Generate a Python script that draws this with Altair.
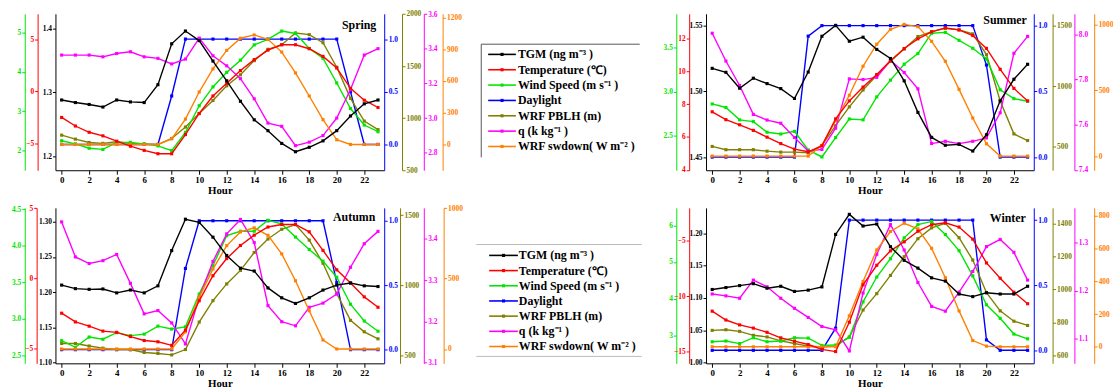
import altair as alt
import pandas as pd

HOURS = list(range(24))
SERIES = ["TGM (ng m⁻³ )", "Temperature (℃)", "Wind Speed (m s⁻¹ )", "Daylight",
          "WRF PBLH (m)", "q (k kg⁻¹ )", "WRF swdown( W m⁻² )"]
KEYS = ["tgm", "temp", "wind", "day", "pblh", "q", "sw"]
COLORS = ["#000000", "#ff0000", "#00e600", "#0000ff", "#808000", "#ff00ff", "#ff8000"]
SEASONS = ["Spring", "Summer", "Autumn", "Winter"]

# ---- Spring ----
spring_tgm = [1.288, 1.284, 1.281, 1.277, 1.288, 1.285, 1.284, 1.312, 1.376, 1.396, 1.381, 1.349,
              1.318, 1.286, 1.257, 1.240, 1.220, 1.207, 1.214, 1.224, 1.240, 1.263, 1.282, 1.288]
spring_temp = [-2.48, -3.30, -3.90, -4.24, -4.75, -5.23, -5.63, -5.95, -5.95, -4.12, -2.10, -0.43,
               0.78, 2.00, 3.05, 3.96, 4.47, 4.47, 4.09, 3.36, 2.25, 0.30, -0.83, -1.53]
spring_wind = [2.25, 2.17, 2.06, 2.03, 2.21, 2.21, 2.17, 2.12, 2.00, 2.46, 3.14, 3.62,
               3.99, 4.30, 4.69, 4.83, 5.04, 4.98, 4.60, 4.35, 3.72, 3.07, 2.65, 2.48]
spring_day = [0, 0, 0, 0, 0, 0, 0, 0, 0.46, 1, 1, 1, 1, 1, 1, 1, 1, 1, 1, 1, 1, 0.5, 0, 0]
spring_pblh = [836, 798, 766, 757, 773, 757, 751, 745, 804, 914, 1043, 1169,
               1310, 1416, 1552, 1661, 1705, 1818, 1802, 1724, 1489, 1190, 971, 889]
spring_q = [3.364, 3.364, 3.364, 3.354, 3.373, 3.383, 3.354, 3.345, 3.313, 3.341, 3.462, 3.360,
            3.302, 3.228, 3.112, 2.972, 2.953, 2.842, 2.862, 2.900, 3.001, 3.165, 3.364, 3.401]
spring_sw = [0, 0, 0, 0, 0, 0, 0, 0, 53, 240, 496, 714, 889, 1004, 1035, 994, 873, 676, 458, 234, 44, 0, 0, 0]

# ---- Summer ----
summer_tgm = [1.5175, 1.5145, 1.5024, 1.510, 1.5059, 1.5021, 1.4946, 1.5147, 1.5419, 1.5502, 1.5381, 1.5412,
              1.5319, 1.525, 1.508, 1.484, 1.465, 1.459, 1.4597, 1.4546, 1.467, 1.4928, 1.5092, 1.5206]
summer_temp = [7.53, 7.05, 6.74, 6.40, 5.99, 5.60, 5.26, 5.10, 5.46, 7.10, 8.19, 9.03,
               9.79, 10.63, 11.37, 11.96, 12.38, 12.62, 12.50, 12.16, 11.38, 10.11, 8.95, 8.19]
summer_wind = [2.86, 2.82, 2.68, 2.66, 2.54, 2.52, 2.55, 2.34, 2.26, 2.48, 2.69, 2.68,
               2.94, 3.13, 3.31, 3.43, 3.66, 3.67, 3.58, 3.49, 3.37, 3.02, 2.92, 2.89]
summer_day = [0, 0, 0, 0, 0, 0, 0, 0.92, 1, 1, 1, 1, 1, 1, 1, 1, 1, 1, 1, 1, 0.7, 0, 0, 0]
summer_pblh = [500, 473, 473, 473, 461, 453, 453, 448, 508, 672, 828, 967,
               1090, 1205, 1306, 1410, 1451, 1478, 1465, 1432, 1260, 877, 604, 549]
summer_q = [8.004, 7.881, 7.773, 7.645, 7.620, 7.606, 7.543, 7.483, 7.490, 7.584, 7.802, 7.799,
            7.809, 7.884, 7.83, 7.758, 7.516, 7.526, 7.516, 7.526, 7.541, 7.652, 7.915, 7.990]
summer_sw = [0, 0, 0, 0, 0, 0, 0, 0, 81, 270, 464, 685, 853, 966, 1004, 987, 875, 723, 509, 290, 94, 0, 0, 0]

# ---- Autumn ----
autumn_tgm = [1.210, 1.205, 1.204, 1.2045, 1.199, 1.203, 1.199, 1.209, 1.259, 1.3035, 1.299, 1.278,
              1.252, 1.234, 1.230, 1.206, 1.192, 1.184, 1.192, 1.203, 1.210, 1.213, 1.209, 1.208]
autumn_temp = [-2.46, -3.08, -3.38, -3.73, -3.82, -4.12, -4.40, -4.49, -4.74, -3.66, -1.58, 0.20,
               1.42, 2.35, 3.08, 3.66, 3.84, 3.84, 3.32, 2.00, 0.62, -0.31, -1.30, -2.04]
autumn_wind = [2.70, 2.61, 2.75, 2.72, 2.81, 2.77, 2.79, 2.90, 2.86, 2.89, 3.34, 3.73,
               4.14, 4.20, 4.20, 4.35, 4.30, 4.12, 3.95, 3.79, 3.57, 3.20, 2.97, 2.83]
autumn_day = [0, 0, 0, 0, 0, 0, 0, 0, 0, 0.63, 1, 1, 1, 1, 1, 1, 1, 1, 1, 1, 0.52, 0, 0, 0]
autumn_pblh = [588, 588, 570, 555, 545, 545, 524, 517, 507, 545, 740, 892,
               1011, 1107, 1234, 1330, 1399, 1432, 1322, 1158, 942, 752, 671, 621]
autumn_q = [3.441, 3.356, 3.340, 3.347, 3.362, 3.292, 3.218, 3.226, 3.196, 3.145, 3.258, 3.345,
            3.412, 3.447, 3.391, 3.238, 3.199, 3.189, 3.234, 3.244, 3.266, 3.331, 3.388, 3.418]
autumn_sw = [0, 0, 0, 0, 0, 0, 0, 0, 0, 122, 369, 568, 735, 832, 861, 808, 676, 485, 272, 64, 0, 0, 0, 0]

# ---- Winter ----
winter_tgm = [1.113, 1.116, 1.119, 1.122, 1.115, 1.118, 1.110, 1.112, 1.117, 1.198, 1.229, 1.211,
              1.214, 1.179, 1.158, 1.146, 1.131, 1.126, 1.106, 1.102, 1.108, 1.106, 1.106, 1.118]
winter_temp = [-11.35, -12.15, -12.59, -12.88, -13.26, -13.76, -14.06, -14.36, -14.80, -15.0, -12.35, -8.97,
               -7.21, -5.91, -5.09, -4.14, -3.55, -3.38, -3.76, -4.85, -7.0, -8.38, -9.64, -10.68]
winter_wind = [2.82, 2.84, 2.77, 2.93, 2.82, 2.84, 2.93, 2.92, 2.72, 2.73, 2.94, 3.91,
               4.59, 5.09, 5.66, 6.02, 6.11, 5.75, 5.31, 4.62, 3.83, 3.46, 3.03, 2.90]
winter_day = [0, 0, 0, 0, 0, 0, 0, 0, 0, 0.17, 1, 1, 1, 1, 1, 1, 1, 1, 1, 1, 0.08, 0, 0, 0]
winter_pblh = [751, 755, 745, 721, 711, 687, 671, 655, 651, 655, 711, 875,
               975, 1086, 1200, 1310, 1376, 1404, 1316, 1180, 981, 870, 807, 781]
winter_q = [1.193, 1.189, 1.184, 1.222, 1.208, 1.184, 1.163, 1.144, 1.125, 1.118, 1.074, 1.195,
            1.276, 1.338, 1.285, 1.217, 1.167, 1.157, 1.197, 1.240, 1.292, 1.307, 1.280, 1.222]
winter_sw = [0, 0, 0, 0, 0, 0, 0, 0, 0, 0, 189, 398, 591, 704, 754, 720, 601, 422, 219, 38, 4, 0, 0, 0]

# ---- axis settings per panel ----
DOMAINS = {
    "Spring": {"tgm": [1.178, 1.423], "temp": [-7.53, 7.43], "wind": [1.5, 5.48], "day": [-0.245, 1.24],
               "pblh": [499, 2002], "q": [2.70, 3.602], "sw": [-244, 1235]},
    "Summer": {"tgm": [1.440, 1.559], "temp": [3.98, 13.48], "wind": [2.11, 3.88], "day": [-0.10, 1.09],
               "pblh": [303, 1598], "q": [7.398, 8.09], "sw": [-108, 1085]},
    "Autumn": {"tgm": [1.099, 1.3196], "temp": [-6.02, 5.02], "wind": [2.39, 4.52], "day": [-0.106, 1.10],
               "pblh": [447, 1551], "q": [3.098, 3.475], "sw": [-102, 1003]},
    "Winter": {"tgm": [0.999, 1.239], "temp": [-16.06, -2.03], "wind": [2.23, 6.48], "day": [-0.10, 1.094],
               "pblh": [550, 1498], "q": [1.048, 1.373], "sw": [-101, 848]},
}
TICKS = {
    "Spring": {"tgm": [1.2, 1.3, 1.4], "temp": [-5, 0, 5], "wind": [2, 3, 4, 5], "day": [0, 0.5, 1.0],
               "pblh": [500, 1000, 1500, 2000], "q": [2.8, 3.0, 3.2, 3.4, 3.6], "sw": [0, 300, 600, 900, 1200]},
    "Summer": {"tgm": [1.45, 1.50, 1.55], "temp": [4, 6, 8, 10, 12], "wind": [2.5, 3.0, 3.5], "day": [0, 0.5, 1.0],
               "pblh": [500, 1000, 1500], "q": [7.4, 7.6, 7.8, 8.0], "sw": [0, 500, 1000]},
    "Autumn": {"tgm": [1.10, 1.15, 1.20, 1.25, 1.30], "temp": [-5, 0, 5], "wind": [2.5, 3.0, 3.5, 4.0, 4.5],
               "day": [0, 0.5, 1.0], "pblh": [500, 1000, 1500], "q": [3.1, 3.2, 3.3, 3.4], "sw": [0, 500, 1000]},
    "Winter": {"tgm": [1.00, 1.05, 1.10, 1.15, 1.20], "temp": [-15, -10, -5], "wind": [3, 4, 5, 6],
               "day": [0, 0.5, 1.0], "pblh": [600, 800, 1000, 1200, 1400], "q": [1.1, 1.2, 1.3],
               "sw": [0, 200, 400, 600, 800]},
}
FORMATS = {
    "Spring": {"tgm": ".1f", "temp": "d", "wind": "d", "day": ".1f", "pblh": "d", "q": ".1f", "sw": "d"},
    "Summer": {"tgm": ".2f", "temp": "d", "wind": ".1f", "day": ".1f", "pblh": "d", "q": ".1f", "sw": "d"},
    "Autumn": {"tgm": ".2f", "temp": "d", "wind": ".1f", "day": ".1f", "pblh": "d", "q": ".1f", "sw": "d"},
    "Winter": {"tgm": ".2f", "temp": "d", "wind": "d", "day": ".1f", "pblh": "d", "q": ".1f", "sw": "d"},
}
OFFSETS = {
    "Spring": {"tgm": 0, "temp": 18, "wind": 31, "day": 0, "pblh": 18, "q": 40, "sw": 59},
    "Summer": {"tgm": 0, "temp": 17, "wind": 30, "day": 0, "pblh": 19, "q": 41, "sw": 61},
    "Autumn": {"tgm": 0, "temp": 19, "wind": 31, "day": 0, "pblh": 16, "q": 40, "sw": 60},
    "Winter": {"tgm": 0, "temp": 17, "wind": 30, "day": 0, "pblh": 19, "q": 41, "sw": 61},
}
SIDES = {"tgm": "left", "temp": "left", "wind": "left", "day": "right", "pblh": "right", "q": "right", "sw": "right"}
TITLE_POS = {"Spring": (8, 11), "Summer": (7, 6), "Autumn": (9, 9), "Winter": (8, 10)}

DATA = {
    "Spring": dict(zip(KEYS, [spring_tgm, spring_temp, spring_wind, spring_day, spring_pblh, spring_q, spring_sw])),
    "Summer": dict(zip(KEYS, [summer_tgm, summer_temp, summer_wind, summer_day, summer_pblh, summer_q, summer_sw])),
    "Autumn": dict(zip(KEYS, [autumn_tgm, autumn_temp, autumn_wind, autumn_day, autumn_pblh, autumn_q, autumn_sw])),
    "Winter": dict(zip(KEYS, [winter_tgm, winter_temp, winter_wind, winter_day, winter_pblh, winter_q, winter_sw])),
}

SERIF = "Liberation Serif"
DRAW_ORDER = ["day", "pblh", "wind", "q", "sw", "temp", "tgm"]


def panel(season, width, height):
    xscale = alt.Scale(domain=[-0.45, 23.45], nice=False, zero=False)
    xaxis = alt.Axis(values=list(range(0, 24, 2)), title="Hour", labelFont=SERIF, labelFontWeight="bold",
                     labelFontSize=9, titleFont=SERIF, titleFontWeight="bold", titleFontSize=11,
                     titlePadding=0, tickSize=4, labelPadding=1, grid=False, domainColor="black",
                     tickColor="black", labelColor="black", titleColor="black", labelFlush=False)
    layers = []
    for key in DRAW_ORDER:
        i = KEYS.index(key)
        c = COLORS[i]
        df = pd.DataFrame({"hour": HOURS, "v": DATA[season][key]})
        yaxis = alt.Axis(orient=SIDES[key], offset=OFFSETS[season][key], values=TICKS[season][key],
                         format=FORMATS[season][key], labelFont=SERIF, labelFontWeight="bold",
                         labelFontSize=7.5, labelColor=c, tickColor=c, domainColor=c, tickSize=3,
                         labelPadding=1, grid=False, title=None, labelFlush=False, labelOverlap=False)
        layers.append(
            alt.Chart(df).mark_line(color=c, strokeWidth=1.4,
                                    point=alt.OverlayMarkDef(shape="square", size=10, color=c, filled=True, opacity=1))
            .encode(x=alt.X("hour:Q", scale=xscale, axis=xaxis),
                    y=alt.Y("v:Q", scale=alt.Scale(domain=DOMAINS[season][key], nice=False, zero=False),
                            axis=yaxis))
        )
    dx, dy = TITLE_POS[season]
    title = alt.Chart(pd.DataFrame({"t": [season]})).mark_text(
        font=SERIF, fontWeight="bold", fontSize=12, align="right", baseline="middle", color="black"
    ).encode(text="t:N", x=alt.value(width - dx), y=alt.value(dy))
    layers.append(title)
    return alt.layer(*layers).resolve_scale(y="independent").properties(width=width, height=height)


leg_df = pd.DataFrame({"name": SERIES, "rank": list(range(7)), "color": COLORS})


def legend(width, height, y0, y1, x_line0, x_line1, x_text, box_rules, box_color):
    ys = alt.Scale(domain=[0, 6], range=[y0, y1])
    base = alt.Chart(leg_df)
    line = base.mark_rule(strokeWidth=1.6).encode(
        x=alt.value(x_line0), x2=alt.value(x_line1),
        y=alt.Y("rank:Q", scale=ys, axis=None), color=alt.Color("color:N", scale=None))
    pts = base.mark_square(size=10, opacity=1).encode(
        x=alt.value((x_line0 + x_line1) / 2), y=alt.Y("rank:Q", scale=ys, axis=None),
        color=alt.Color("color:N", scale=None))
    txt = base.mark_text(align="left", baseline="middle", font=SERIF, fontWeight="bold",
                         fontSize=12, color="black").encode(
        x=alt.value(x_text), y=alt.Y("rank:Q", scale=ys, axis=None), text="name:N")
    layers = []
    for (xa, xb, ya, yb) in box_rules:
        layers.append(alt.Chart(pd.DataFrame({"a": [0]})).mark_rule(color=box_color, strokeWidth=1).encode(
            x=alt.value(xa), x2=alt.value(xb), y=alt.value(ya), y2=alt.value(yb)))
    layers += [line, pts, txt]
    return alt.layer(*layers).properties(width=width, height=height)


LW, MW, RW = 332, 325, 331
H1, H2 = 158, 157

leg_top = legend(MW, H1, 41, 134, 105, 133, 135,
                 [(98, 258, 30.7, 30.7), (98, 98, 30.7, 145)], "#555555")
leg_bot = legend(MW, H2, 48, 140, 106, 135, 136,
                 [(93, 260, 37, 37), (93, 260, 150, 150)], "#bbbbbb")

chart = alt.concat(
    panel("Spring", LW, H1), leg_top, panel("Summer", RW, H1),
    panel("Autumn", LW, H2), leg_bot, panel("Winter", RW, H2),
    columns=3, spacing={"row": 38, "column": 0}, bounds="flush"
).properties(
    padding={"left": 11, "top": 8, "right": 0, "bottom": 0}, background="white"
).configure_view(stroke=None)

chart.save("out.html", embed_options={"renderer": "svg", "actions": False})
